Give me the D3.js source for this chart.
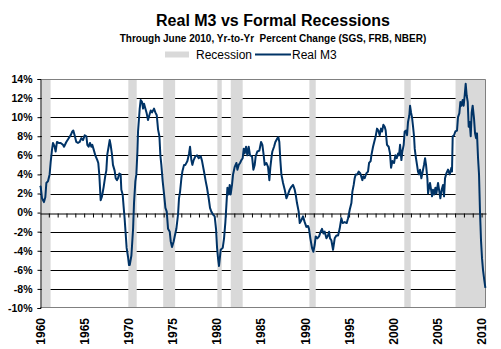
<!DOCTYPE html>
<html lang="en">
<head>
<meta charset="utf-8">
<title>Real M3 vs Formal Recessions</title>
<script src="https://d3js.org/d3.v7.min.js"></script>
<style>
  body { margin: 0; background: #fff; }
  text { font-family: Arial, "Liberation Sans", sans-serif; }
</style>
</head>
<body>
<div class="chart"></div>
<script>
// recession spans (decimal years, as shaded on the chart)
const recStart = [1960.2, 1970.0, 1973.95, 1980.08, 1981.6, 1990.5, 2001.25, 2007.05];
const recEnd   = [1961.2, 1970.95, 1975.3, 1980.58, 1982.95, 1991.22, 2001.98, 2010.5];

// Real M3, yr-to-yr % change
const yrs = [
  1960.0,1960.08,1960.23,1960.45,1960.6,1960.72,1960.91,1961.09,1961.21,1961.36,1961.47,1961.66,1961.77,1961.92,
  1962.11,1962.34,1962.6,1962.72,1962.98,1963.25,1963.47,1963.66,1963.77,1963.92,1964.11,1964.3,1964.49,1964.68,
  1964.87,1965.06,1965.25,1965.36,1965.51,1965.66,1965.81,1965.92,1966.08,1966.26,1966.49,1966.6,1966.72,1966.87,
  1967.02,1967.21,1967.4,1967.51,1967.62,1967.77,1967.89,1968.0,1968.15,1968.26,1968.45,1968.57,1968.72,1968.83,
  1968.98,1969.13,1969.21,1969.36,1969.47,1969.58,1969.7,1969.81,1969.96,1970.08,1970.16,1970.35,1970.54,1970.65,
  1970.8,1970.91,1971.03,1971.1,1971.29,1971.4,1971.55,1971.67,1971.78,1971.93,1972.08,1972.23,1972.38,1972.54,
  1972.69,1972.91,1973.06,1973.22,1973.37,1973.52,1973.63,1973.74,1973.89,1974.05,1974.2,1974.35,1974.5,1974.69,
  1974.8,1974.95,1975.14,1975.25,1975.44,1975.63,1975.74,1975.86,1976.01,1976.12,1976.31,1976.46,1976.69,1976.88,
  1976.99,1977.14,1977.25,1977.4,1977.59,1977.78,1977.97,1978.2,1978.35,1978.57,1978.76,1978.91,1979.1,1979.25,
  1979.4,1979.59,1979.78,1979.93,1980.05,1980.16,1980.27,1980.46,1980.69,1980.84,1980.99,1981.1,1981.22,1981.37,
  1981.48,1981.59,1981.74,1981.86,1982.05,1982.24,1982.35,1982.5,1982.65,1982.8,1982.95,1983.07,1983.18,1983.33,
  1983.48,1983.63,1983.78,1984.01,1984.16,1984.31,1984.42,1984.61,1984.84,1985.03,1985.18,1985.33,1985.44,1985.63,
  1985.82,1985.97,1986.08,1986.24,1986.31,1986.5,1986.65,1986.88,1986.99,1987.1,1987.22,1987.33,1987.52,1987.71,
  1987.9,1988.08,1988.27,1988.46,1988.65,1988.84,1988.95,1989.1,1989.29,1989.41,1989.59,1989.78,1989.97,1990.16,
  1990.35,1990.46,1990.61,1990.8,1990.95,1991.1,1991.22,1991.41,1991.6,1991.78,1991.93,1992.09,1992.24,1992.43,
  1992.61,1992.73,1992.84,1992.99,1993.18,1993.37,1993.56,1993.75,1993.93,1994.12,1994.27,1994.5,1994.73,1994.88,
  1995.07,1995.26,1995.37,1995.52,1995.63,1995.75,1995.93,1996.09,1996.27,1996.5,1996.61,1996.76,1996.95,1997.14,
  1997.26,1997.44,1997.52,1997.71,1997.9,1998.01,1998.16,1998.31,1998.46,1998.61,1998.73,1998.88,1999.03,1999.14,
  1999.29,1999.48,1999.63,1999.75,1999.9,2000.09,2000.24,2000.39,2000.54,2000.65,2000.77,2000.92,2001.03,2001.18,
  2001.29,2001.45,2001.56,2001.67,2001.82,2001.9,2002.01,2002.12,2002.24,2002.35,2002.43,2002.54,2002.69,2002.8,
  2002.92,2003.03,2003.18,2003.33,2003.48,2003.6,2003.71,2003.86,2003.94,2004.05,2004.16,2004.28,2004.39,2004.5,
  2004.62,2004.77,2004.88,2005.07,2005.18,2005.33,2005.48,2005.63,2005.75,2005.86,2006.01,2006.2,2006.39,2006.58,
  2006.65,2006.73,2006.88,2007.03,2007.22,2007.33,2007.48,2007.6,2007.71,2007.86,2007.97,2008.09,2008.2,2008.31,
  2008.43,2008.54,2008.65,2008.77,2008.88,2008.99,2009.14,2009.26,2009.37,2009.48,2009.6,2009.71,2009.82,2009.94,
  2010.05,2010.16,2010.31,2010.43
];
const m3 = [
  2.8,2.7,1.5,1.1,1.6,3.1,3.3,4.0,5.3,6.6,7.3,6.9,6.4,7.4,
  7.3,7.3,7.1,6.9,7.4,7.8,8.1,8.5,8.6,8.1,7.4,7.3,7.4,7.8,
  7.6,8.1,8.0,7.1,6.9,7.3,6.9,7.1,6.6,6.0,5.5,5.2,3.9,1.3,
  1.7,2.7,3.9,4.4,6.1,6.9,7.6,7.1,6.1,5.0,4.4,3.6,3.4,3.6,
  4.1,4.0,2.4,1.9,0.6,-0.6,-2.2,-3.7,-4.6,-5.5,-5.5,-4.5,-1.7,1.1,
  3.3,4.0,6.4,8.5,10.9,11.8,11.6,10.9,11.4,10.9,10.4,9.7,10.2,10.7,
  10.5,10.9,10.5,10.2,8.7,8.0,6.0,5.0,3.3,1.9,0.5,0.1,-1.7,-2.0,
  -3.0,-3.6,-3.0,-2.5,-1.7,-0.2,1.5,2.2,3.6,4.3,5.0,5.0,5.4,6.2,
  6.9,5.5,5.0,5.5,5.9,6.0,5.7,5.9,5.4,4.3,3.3,2.6,1.5,0.5,
  0.1,-0.2,-0.4,-1.7,-3.7,-4.8,-5.6,-3.9,-3.7,-2.7,-1.0,0.7,2.6,1.9,
  2.9,1.9,2.9,4.0,4.8,5.2,4.5,5.0,5.2,5.5,5.7,6.7,6.2,6.9,
  6.0,6.9,6.0,5.9,4.5,5.0,5.9,6.4,6.5,7.4,7.1,6.0,5.0,5.2,
  4.8,3.4,4.7,6.0,6.4,6.9,7.4,7.8,7.9,7.4,5.4,4.0,3.1,2.4,
  1.5,1.9,2.4,2.7,2.9,2.4,1.9,1.0,0.1,-1.1,-0.8,-0.4,-1.0,-1.5,
  -1.4,-1.7,-2.7,-3.7,-4.1,-3.4,-2.5,-2.7,-2.5,-2.0,-1.7,-2.2,-2.0,-2.7,
  -2.4,-2.0,-2.7,-2.9,-3.9,-2.7,-2.4,-2.4,-1.7,-0.6,-1.1,-1.0,-1.1,-0.6,
  0.3,1.0,2.2,2.9,3.6,4.0,4.0,4.3,4.1,3.4,3.8,3.6,4.1,4.3,
  5.2,5.4,6.0,6.9,7.6,8.0,8.8,8.6,8.1,8.8,8.5,9.2,9.0,8.6,
  7.1,6.9,6.2,4.7,5.4,5.2,6.0,5.7,6.2,6.0,7.1,5.5,6.4,7.1,
  8.5,8.6,8.1,9.5,10.2,11.2,10.5,10.0,9.0,8.0,6.7,5.9,5.0,4.3,
  4.0,4.5,3.6,4.3,5.0,5.7,5.0,3.6,2.0,2.6,3.1,2.4,1.7,2.4,
  1.9,2.6,2.0,3.1,2.4,1.5,2.4,2.9,1.7,3.6,4.1,4.5,4.0,4.7,
  4.3,8.0,8.1,8.5,8.6,10.0,10.4,11.6,11.2,11.8,11.2,12.3,13.5,12.3,
  11.6,9.0,9.5,8.0,10.5,11.2,9.9,8.3,7.8,8.3,5.7,4.0,0.1,-3.0,
  -4.8,-6.0,-7.1,-7.9
];

const yTicks = [-10, -8, -6, -4, -2, 0, 2, 4, 6, 8, 10, 12, 14];
const xLabels = [1960, 1965, 1970, 1975, 1980, 1985, 1990, 1995, 2000, 2005, 2010];
const yearTicks = d3.range(1961, 2011);

const W = 501, H = 349;
const L = 40, R = 486, T = 79, B = 308;

const svg = d3.select(".chart").append("svg")
    .attr("width", W)
    .attr("height", H);

const x = d3.scaleLinear().domain([1960, 2010.5]).range([L, R]);
const y = d3.scaleLinear().domain([-10, 14]).range([B, T]);

// titles
svg.append("text")
    .attr("x", 273).attr("y", 26)
    .attr("text-anchor", "middle")
    .attr("font-size", "16px").attr("font-weight", "bold")
    .text("Real M3 vs Formal Recessions");

svg.append("text")
    .attr("x", 273).attr("y", 42)
    .attr("text-anchor", "middle")
    .attr("font-size", "10px").attr("font-weight", "bold")
    .style("white-space", "pre")
    .text("Through June 2010, Yr-to-Yr  Percent Change (SGS, FRB, NBER)");

// legend
svg.append("rect")
    .attr("x", 165).attr("y", 51.5)
    .attr("width", 24).attr("height", 6)
    .attr("fill", "#d9d9d9");
svg.append("text")
    .attr("x", 196).attr("y", 59)
    .attr("font-size", "12px")
    .text("Recession");
svg.append("line")
    .attr("x1", 255).attr("x2", 291)
    .attr("y1", 54.5).attr("y2", 54.5)
    .attr("stroke", "#003366").attr("stroke-width", 2);
svg.append("text")
    .attr("x", 292).attr("y", 59)
    .attr("font-size", "12px")
    .text("Real M3");

// gridlines (under the shading)
svg.append("g")
    .selectAll("line")
    .data(yTicks.filter(d => d > -10 && d < 14 && d !== 0))
    .enter()
    .append("line")
    .attr("x1", L).attr("x2", R)
    .attr("y1", d => Math.round(y(d)) + 0.5)
    .attr("y2", d => Math.round(y(d)) + 0.5)
    .attr("stroke", "#000").attr("stroke-width", 1);

// recession shading
svg.append("g")
    .selectAll("rect")
    .data(recStart)
    .enter()
    .append("rect")
    .attr("x", d => x(d))
    .attr("y", T)
    .attr("width", (d, i) => x(recEnd[i]) - x(d))
    .attr("height", B - T)
    .attr("fill", "#d9d9d9");

// plot frame
svg.append("path")
    .attr("d", `M${L},${T + 0.5}H${R - 0.5}V${B - 0.5}H${L}`)
    .attr("fill", "none")
    .attr("stroke", "#808080").attr("stroke-width", 1);

// y axis
const yAxis = d3.axisLeft(y)
    .tickValues(yTicks)
    .tickSize(3)
    .tickFormat(d => d + "%");
svg.append("g")
    .attr("class", "y-axis")
    .attr("transform", `translate(${L + 0.5},0)`)
    .call(yAxis)
    .call(g => g.selectAll("text")
        .attr("font-size", "10.5px")
        .attr("font-weight", "bold")
        .attr("fill", "#000")
        .attr("font-family", "Arial, 'Liberation Sans', sans-serif")
        .attr("x", -8));

// zero line with yearly ticks
const zAxis = d3.axisBottom(x)
    .tickValues(yearTicks)
    .tickSize(4)
    .tickSizeOuter(0)
    .tickFormat("");
svg.append("g")
    .attr("transform", `translate(0,${Math.round(y(0)) + 0.5})`)
    .call(zAxis)
    .call(g => g.select(".domain").attr("stroke", "#000"));

// x labels, rotated
const xAxis = d3.axisBottom(x)
    .tickValues(xLabels)
    .tickSize(0)
    .tickFormat(d3.format("d"));
svg.append("g")
    .attr("transform", `translate(0,${B})`)
    .call(xAxis)
    .call(g => g.select(".domain").remove())
    .call(g => g.selectAll("text")
        .attr("font-size", "12px")
        .attr("font-weight", "bold")
        .attr("fill", "#000")
        .attr("font-family", "Arial, 'Liberation Sans', sans-serif")
        .attr("transform", "rotate(-90)")
        .attr("text-anchor", "end")
        .attr("x", -10)
        .attr("y", 0)
        .attr("dy", "0.35em"));

// Real M3 line
const pts = yrs.map((d, i) => [d, m3[i]]);
svg.append("path")
    .datum(pts)
    .attr("fill", "none")
    .attr("stroke", "#003366")
    .attr("stroke-width", 2)
    .attr("stroke-linejoin", "round")
    .attr("d", d3.line().x(d => x(d[0])).y(d => y(d[1])));
</script>
</body>
</html>
